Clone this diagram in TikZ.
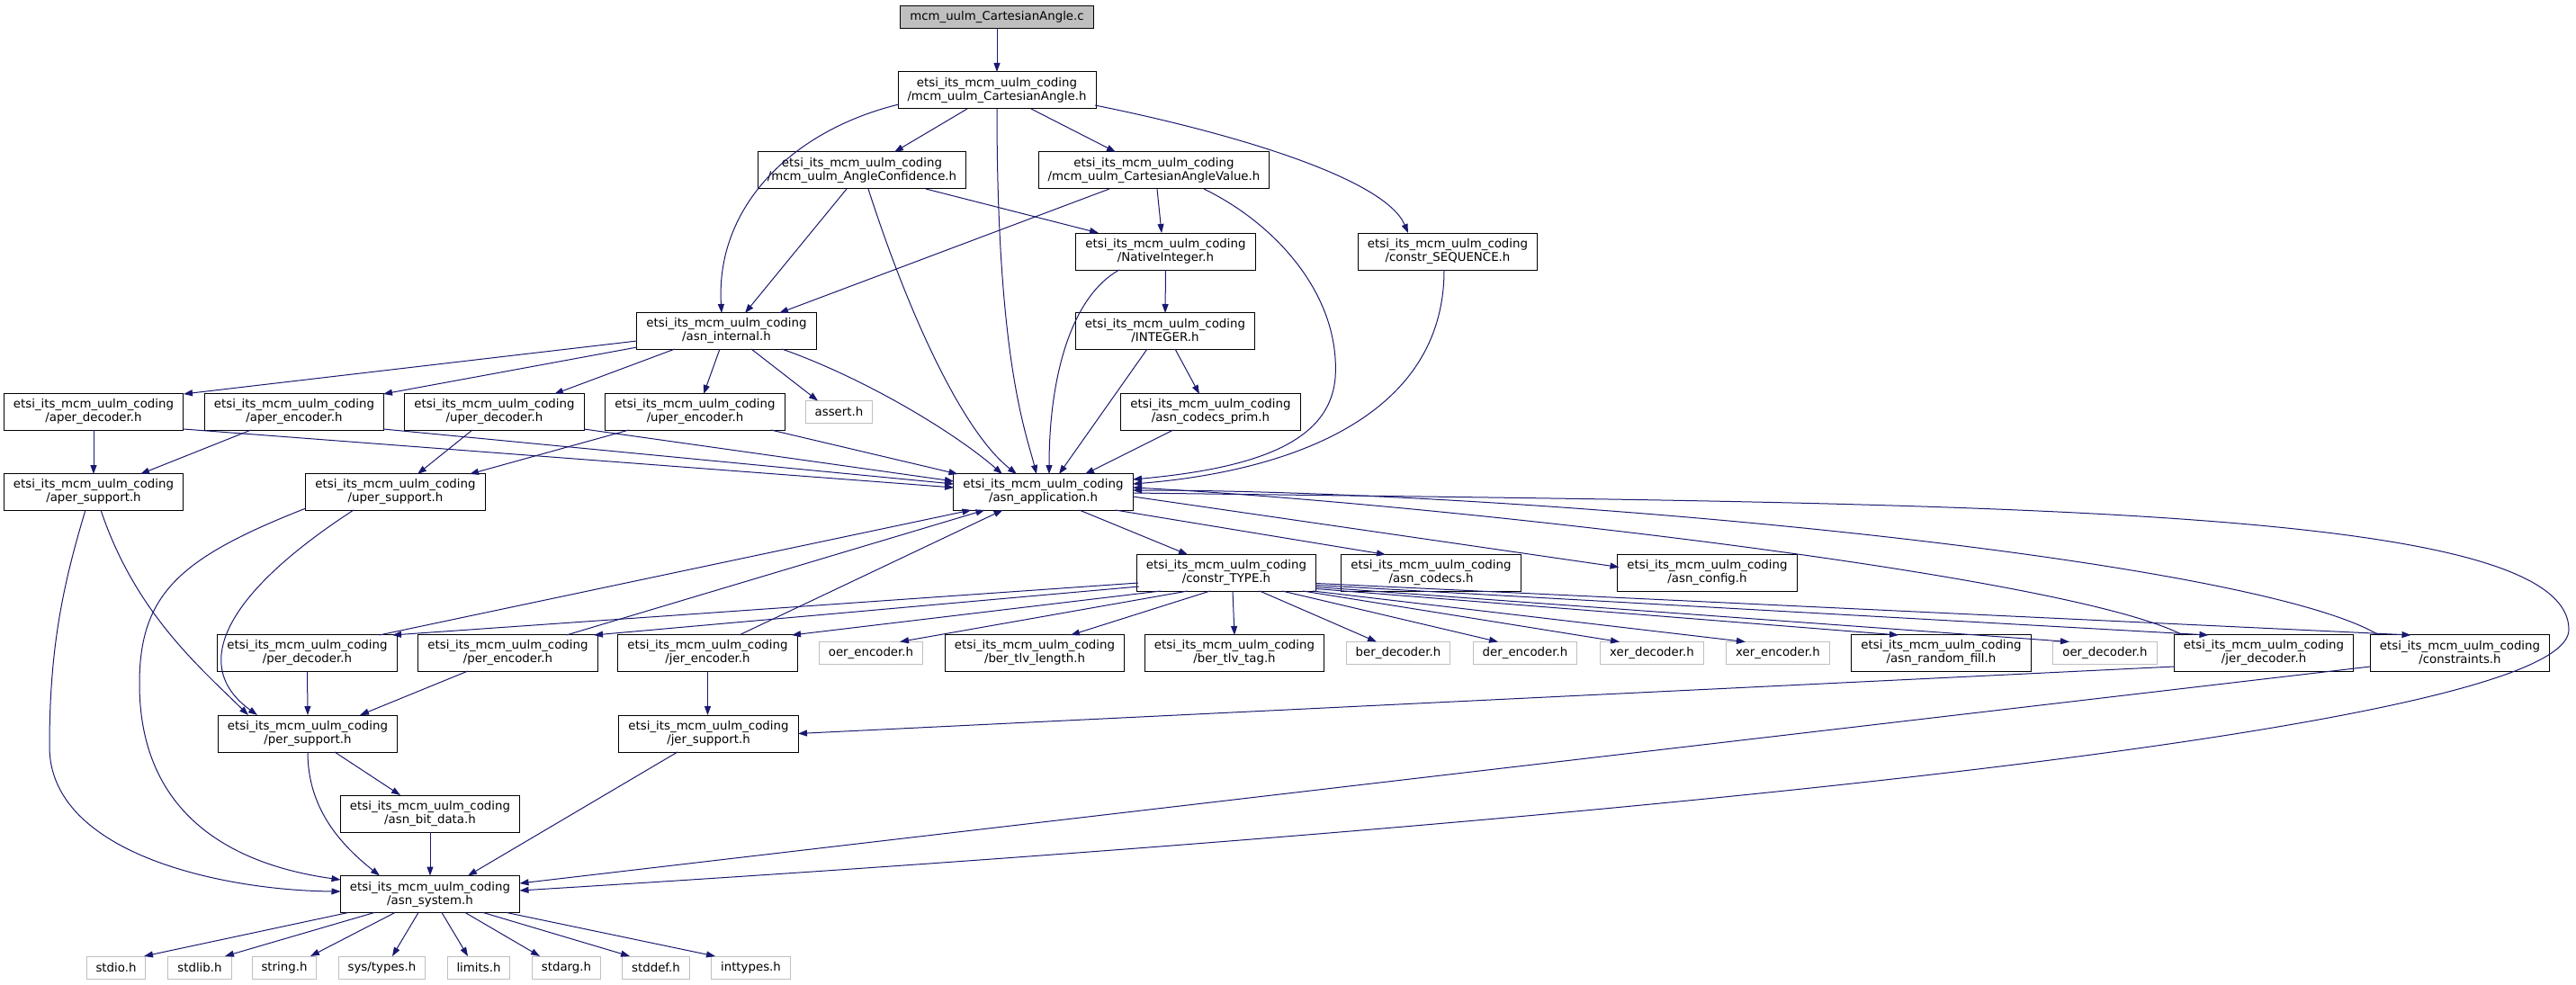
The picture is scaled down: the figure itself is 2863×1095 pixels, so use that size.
\documentclass[tikz,border=0pt]{standalone}
\usepackage{fontspec}
\setmainfont{DejaVu Sans}
\usetikzlibrary{arrows.meta,calc}
\definecolor{eb}{HTML}{191970}
\definecolor{gb}{HTML}{BFBFBF}
\newcommand\etsi{etsi\_its\_mcm\_uulm\_coding}
\begin{document}
\begin{tikzpicture}[x=0.75pt,y=-0.75pt,
  font=\fontsize{10}{11.25}\selectfont,
  box/.style={draw=black, line width=0.75pt, rectangle, inner xsep=7.875pt, inner ysep=0pt, minimum height=30.75pt, align=center},
  sysbox/.style={draw=gb, line width=0.75pt, rectangle, inner xsep=7.875pt, inner ysep=0pt, minimum height=18.75pt},
  topbox/.style={sysbox, draw=black, fill=gb},
  e/.style={draw=eb, line width=0.75pt, -{Triangle[length=7.5pt,width=5.25pt,fill=eb]}}]
\useasboundingbox (0,0) rectangle (2863,1095);
% nodes
\node[topbox] (c) at (1108,19) {mcm\_uulm\_CartesianAngle.c};
\node[box] (cah) at (1108,100.5) {\etsi\\/mcm\_uulm\_CartesianAngle.h};
\node[box] (conf) at (958,189.5) {\etsi\\/mcm\_uulm\_AngleConfidence.h};
\node[box] (cav) at (1282.5,189.5) {\etsi\\/mcm\_uulm\_CartesianAngleValue.h};
\node[box] (nat) at (1295.5,279.5) {\etsi\\/NativeInteger.h};
\node[box] (seq) at (1609,279.5) {\etsi\\/constr\_SEQUENCE.h};
\node[box] (ai) at (807.5,368) {\etsi\\/asn\_internal.h};
\node[box] (intg) at (1295,368) {\etsi\\/INTEGER.h};
\node[box] (ad) at (104,458) {\etsi\\/aper\_decoder.h};
\node[box] (ae) at (327,458) {\etsi\\/aper\_encoder.h};
\node[box] (ud) at (549.5,458) {\etsi\\/uper\_decoder.h};
\node[box] (ue) at (772.5,458) {\etsi\\/uper\_encoder.h};
\node[sysbox] (asrt) at (932.5,458) {assert.h};
\node[box] (cp) at (1345.5,458) {\etsi\\/asn\_codecs\_prim.h};
\node[box] (as) at (104,547) {\etsi\\/aper\_support.h};
\node[box] (us) at (439.5,547) {\etsi\\/uper\_support.h};
\node[box] (app) at (1159.5,547) {\etsi\\/asn\_application.h};
\node[box] (ct) at (1363,636.5) {\etsi\\/constr\_TYPE.h};
\node[box] (codecs) at (1590.5,636.5) {\etsi\\/asn\_codecs.h};
\node[box] (cfg) at (1897.5,636.5) {\etsi\\/asn\_config.h};
\node[box] (pd) at (341.5,726) {\etsi\\/per\_decoder.h};
\node[box] (pe) at (564.5,726) {\etsi\\/per\_encoder.h};
\node[box] (je) at (786.5,726) {\etsi\\/jer\_encoder.h};
\node[sysbox] (oe) at (968,726) {oer\_encoder.h};
\node[box] (btl) at (1150,726) {\etsi\\/ber\_tlv\_length.h};
\node[box] (btt) at (1372,726) {\etsi\\/ber\_tlv\_tag.h};
\node[sysbox] (bd) at (1554,726) {ber\_decoder.h};
\node[sysbox] (de) at (1695,726) {der\_encoder.h};
\node[sysbox] (xd) at (1836,726) {xer\_decoder.h};
\node[sysbox] (xe) at (1976,726) {xer\_encoder.h};
\node[box] (rf) at (2157.5,726) {\etsi\\/asn\_random\_fill.h};
\node[sysbox] (od) at (2339.5,726) {oer\_decoder.h};
\node[box] (jd) at (2516,726) {\etsi\\/jer\_decoder.h};
\node[box] (cons) at (2734,726) {\etsi\\/constraints.h};
\node[box] (ps) at (342,815.5) {\etsi\\/per\_support.h};
\node[box] (js) at (787.5,815.5) {\etsi\\/jer\_support.h};
\node[box] (bit) at (478,904.5) {\etsi\\/asn\_bit\_data.h};
\node[box] (sysh) at (478,994) {\etsi\\/asn\_system.h};
\node[sysbox] (stdio) at (129,1075.5) {stdio.h};
\node[sysbox] (stdlib) at (222,1075.5) {stdlib.h};
\node[sysbox] (string) at (316,1075.5) {string.h};
\node[sysbox] (systypes) at (424.5,1075.5) {sys/types.h};
\node[sysbox] (limits) at (532,1075.5) {limits.h};
\node[sysbox] (stdarg) at (629.5,1075.5) {stdarg.h};
\node[sysbox] (stddef) at (729,1075.5) {stddef.h};
\node[sysbox] (inttypes) at (834.5,1075.5) {inttypes.h};
% edges
\draw[e] ($(c)+(0,12.5)$) -- ($(cah)+(0,-20.5)$);
\draw[e] ($(cah)+(-109,15.5)$) .. controls (880,145) and (795,230) .. ($(ai)+(-5.5,-20)$);
\draw[e] ($(cah)+(-33,20.5)$) -- ($(conf)+(36,-20.5)$);
\draw[e] ($(cah)+(0,20.5)$) .. controls (1108,400) and (1140,480) .. ($(app)+(-7.5,-20)$);
\draw[e] ($(cah)+(38,20.5)$) -- ($(cav)+(-42.5,-20.5)$);
\draw[e] ($(cah)+(109,16.5)$) .. controls (1380,150) and (1540,200) .. ($(seq)+(-44,-20.5)$);
\draw[e] ($(conf)+(-17,20.5)$) -- ($(ai)+(20.5,-20)$);
\draw[e] ($(conf)+(7,20.5)$) .. controls (1010,350) and (1070,480) .. ($(app)+(-29.5,-20)$);
\draw[e] ($(conf)+(71,20.5)$) -- ($(nat)+(-74.5,-20.5)$);
\draw[e] ($(cav)+(-49.5,20.5)$) -- ($(ai)+(58.5,-20)$);
\draw[e] ($(cav)+(3.5,20.5)$) -- ($(nat)+(-4.5,-20.5)$);
\draw[e] ($(cav)+(55.5,20.5)$) .. controls (1420,250) and (1490,330) .. (1484,420) .. controls (1478,490) and (1400,520) .. ($(app)+(99.5,-14)$);
\draw[e] ($(nat)+(0,20.5)$) -- ($(intg)+(0,-20)$);
\draw[e] ($(nat)+(-51.5,20.5)$) .. controls (1190,330) and (1166,420) .. ($(app)+(6.5,-20)$);
\draw[e] ($(seq)+(-4,20.5)$) .. controls (1605,470) and (1420,525) .. ($(app)+(99.5,-9)$);
\draw[e] ($(ai)+(-99.5,11)$) -- ($(ad)+(100,-20)$);
\draw[e] ($(ai)+(-99.5,18)$) -- ($(ae)+(99,-20)$);
\draw[e] ($(ai)+(-57.5,20)$) -- ($(ud)+(66.5,-20)$);
\draw[e] ($(ai)+(-7.5,20)$) -- ($(ue)+(9.5,-20)$);
\draw[e] ($(ai)+(27.5,20)$) -- ($(asrt)+(-23.5,-12.5)$);
\draw[e] ($(ai)+(61.5,20)$) .. controls (960,420) and (1060,480) .. ($(app)+(-45.5,-20)$);
\draw[e] ($(intg)+(-20,20)$) -- ($(app)+(17.5,-20)$);
\draw[e] ($(intg)+(11,20)$) -- ($(cp)+(-12.5,-20)$);
\draw[e] ($(cp)+(-41.5,20)$) -- ($(app)+(46.5,-20)$);
\draw[e] ($(ad)+(0,20)$) -- ($(as)+(0,-20)$);
\draw[e] ($(ad)+(100,19)$) -- ($(app)+(-99.5,-5)$);
\draw[e] ($(ae)+(-48,20)$) -- ($(as)+(52,-20)$);
\draw[e] ($(ae)+(99,19)$) -- ($(app)+(-99.5,-9)$);
\draw[e] ($(ud)+(-24.5,20)$) -- ($(us)+(24.5,-20)$);
\draw[e] ($(ud)+(99.5,19)$) -- ($(app)+(-99.5,-12)$);
\draw[e] ($(ue)+(-73.5,20)$) -- ($(us)+(82.5,-20)$);
\draw[e] ($(ue)+(84.5,20)$) -- ($(app)+(-95,-20)$);
\draw[e] ($(as)+(-9,20)$) .. controls (70,650) and (55,720) .. (55,830) .. controls (55,950) and (250,990) .. ($(sysh)+(-99.5,-3)$);
\draw[e] ($(as)+(8,20)$) .. controls (150,680) and (220,740) .. ($(ps)+(-66,-20.5)$);
\draw[e] ($(us)+(-99.5,18)$) .. controls (200,620) and (155,660) .. (155,760) .. controls (155,900) and (250,960) .. ($(sysh)+(-99.5,-16)$);
\draw[e] ($(us)+(-46.5,20)$) .. controls (250,660) and (210,740) .. ($(ps)+(-56,-20.5)$);
\draw[e] ($(app)+(40,20)$) -- ($(ct)+(-43,-20)$);
\draw[e] ($(app)+(80,20)$) -- ($(codecs)+(-50.5,-20)$);
\draw[e] ($(app)+(99.5,5)$) -- ($(cfg)+(-98,-6)$);
\draw[e] ($(app)+(99.5,1)$) .. controls (2200,560) and (2855,560) .. (2855,700) .. controls (2855,850) and (900,970) .. ($(sysh)+(99.5,-4)$);
% constr_TYPE fan
\draw[e] ($(ct)+(-98,11.5)$) -- ($(pd)+(94.5,-20)$);
\draw[e] ($(ct)+(-97,15.5)$) -- ($(pe)+(95.5,-20)$);
\draw[e] ($(ct)+(-73,20.5)$) -- ($(je)+(93.5,-20)$);
\draw[e] ($(ct)+(-43,20.5)$) -- ($(oe)+(32,-12.5)$);
\draw[e] ($(ct)+(-18,20.5)$) -- ($(btl)+(40,-20)$);
\draw[e] ($(ct)+(7,20.5)$) -- ($(btt)+(0,-20)$);
\draw[e] ($(ct)+(37,20.5)$) -- ($(bd)+(-24,-12.5)$);
\draw[e] ($(ct)+(62,20.5)$) -- ($(de)+(-30,-12.5)$);
\draw[e] ($(ct)+(85,20.5)$) -- ($(xd)+(-36,-12.5)$);
\draw[e] ($(ct)+(96,20.5)$) -- ($(xe)+(-36,-12.5)$);
\draw[e] ($(ct)+(99.5,18)$) -- ($(rf)+(-47.5,-20)$);
\draw[e] ($(ct)+(99.5,16)$) -- ($(od)+(-39.5,-12.5)$);
\draw[e] ($(ct)+(99.5,14)$) -- ($(jd)+(-61.5,-20)$);
\draw[e] ($(ct)+(99.5,12)$) -- ($(cons)+(-54.5,-20)$);
% back edges to asn_application
\draw[e] ($(pd)+(80,-20)$) -- ($(app)+(-80,20)$);
\draw[e] ($(pe)+(65,-20)$) -- ($(app)+(-65,20)$);
\draw[e] ($(je)+(35,-20)$) -- ($(app)+(-45,20)$);
\draw[e] ($(jd)+(-90,-20)$) .. controls (2300,640) and (1600,560) .. ($(app)+(99.5,-5)$);
\draw[e] ($(cons)+(-90,-20)$) .. controls (2500,620) and (1700,545) .. ($(app)+(99.5,-2)$);
% lower part
\draw[e] ($(pd)+(0,20)$) -- ($(ps)+(0,-20.5)$);
\draw[e] ($(pe)+(-44.5,20)$) -- ($(ps)+(58,-20.5)$);
\draw[e] ($(je)+(0,20)$) -- ($(js)+(-1,-20.5)$);
\draw[e] ($(jd)+(-99.5,15)$) -- ($(js)+(99.5,0)$);
\draw[e] ($(ps)+(30,20.5)$) -- ($(bit)+(-33,-20.5)$);
\draw[e] ($(ps)+(0,20.5)$) .. controls (342,900) and (380,940) .. ($(sysh)+(-56,-20.5)$);
\draw[e] ($(bit)+(0,20.5)$) -- ($(sysh)+(0,-20.5)$);
\draw[e] ($(js)+(-34.5,20.5)$) -- ($(sysh)+(42,-20.5)$);
\draw[e] ($(cons)+(-99.5,15)$) -- ($(sysh)+(99.5,-12)$);
% asn_system to std headers
\draw[e] ($(sysh)+(-91,20.5)$) -- ($(stdio)+(31,-12.5)$);
\draw[e] ($(sysh)+(-62,20.5)$) -- ($(stdlib)+(28,-12.5)$);
\draw[e] ($(sysh)+(-39,20.5)$) -- ($(string)+(29,-12.5)$);
\draw[e] ($(sysh)+(-13,20.5)$) -- ($(systypes)+(11.5,-12.5)$);
\draw[e] ($(sysh)+(13,20.5)$) -- ($(limits)+(-12,-12.5)$);
\draw[e] ($(sysh)+(39,20.5)$) -- ($(stdarg)+(-29.5,-12.5)$);
\draw[e] ($(sysh)+(59,20.5)$) -- ($(stddef)+(-29,-12.5)$);
\draw[e] ($(sysh)+(85,20.5)$) -- ($(inttypes)+(-39.5,-12.5)$);
\end{tikzpicture}
\end{document}
